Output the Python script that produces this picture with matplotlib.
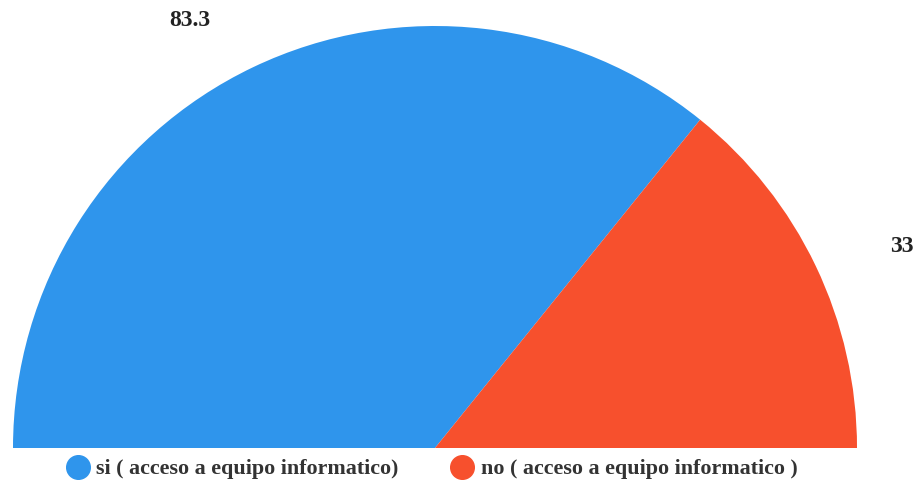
import matplotlib
matplotlib.use("Agg")
import matplotlib.pyplot as plt
from matplotlib.lines import Line2D

categories = ["si ( acceso a equipo informatico)", "no ( acceso a equipo informatico )"]
values = [83.3, 33]
value_labels = ["83.3", "33"]
colors = ["#2F95EC", "#F7502D"]

W, H = 918, 482
fig = plt.figure(figsize=(W / 100, H / 100), dpi=100)
ax = fig.add_axes([0, 0, 1, 1])

total = sum(values)
ax.pie(values + [total], colors=colors + ["none"], startangle=180,
       counterclock=False, center=(435, H - 448), radius=422,
       frame=True, wedgeprops=dict(linewidth=0))
ax.set_xlim(0, W)
ax.set_ylim(0, H)
ax.axis("off")

font = dict(family="Liberation Serif", fontweight="bold")
label_pos = [(190, 21), (902, 247)]
for (x, y), t in zip(label_pos, value_labels):
    ax.text(x, H - y, t, ha="center", va="center", fontsize=17, color="#222222", **font)

handles = [Line2D([], [], marker="o", linestyle="none", markersize=17,
                  markerfacecolor=c, markeredgecolor=c) for c in colors]
leg = fig.legend(handles, categories, loc="center", bbox_to_anchor=(429 / W, 1 - 469 / H),
                 ncol=2, frameon=False, handletextpad=0.05, columnspacing=2.1,
                 handlelength=1.6, prop=dict(family="Liberation Serif", weight="bold", size=15.8))
for t in leg.get_texts():
    t.set_color("#333333")

fig.savefig("out.png", dpi=100)
